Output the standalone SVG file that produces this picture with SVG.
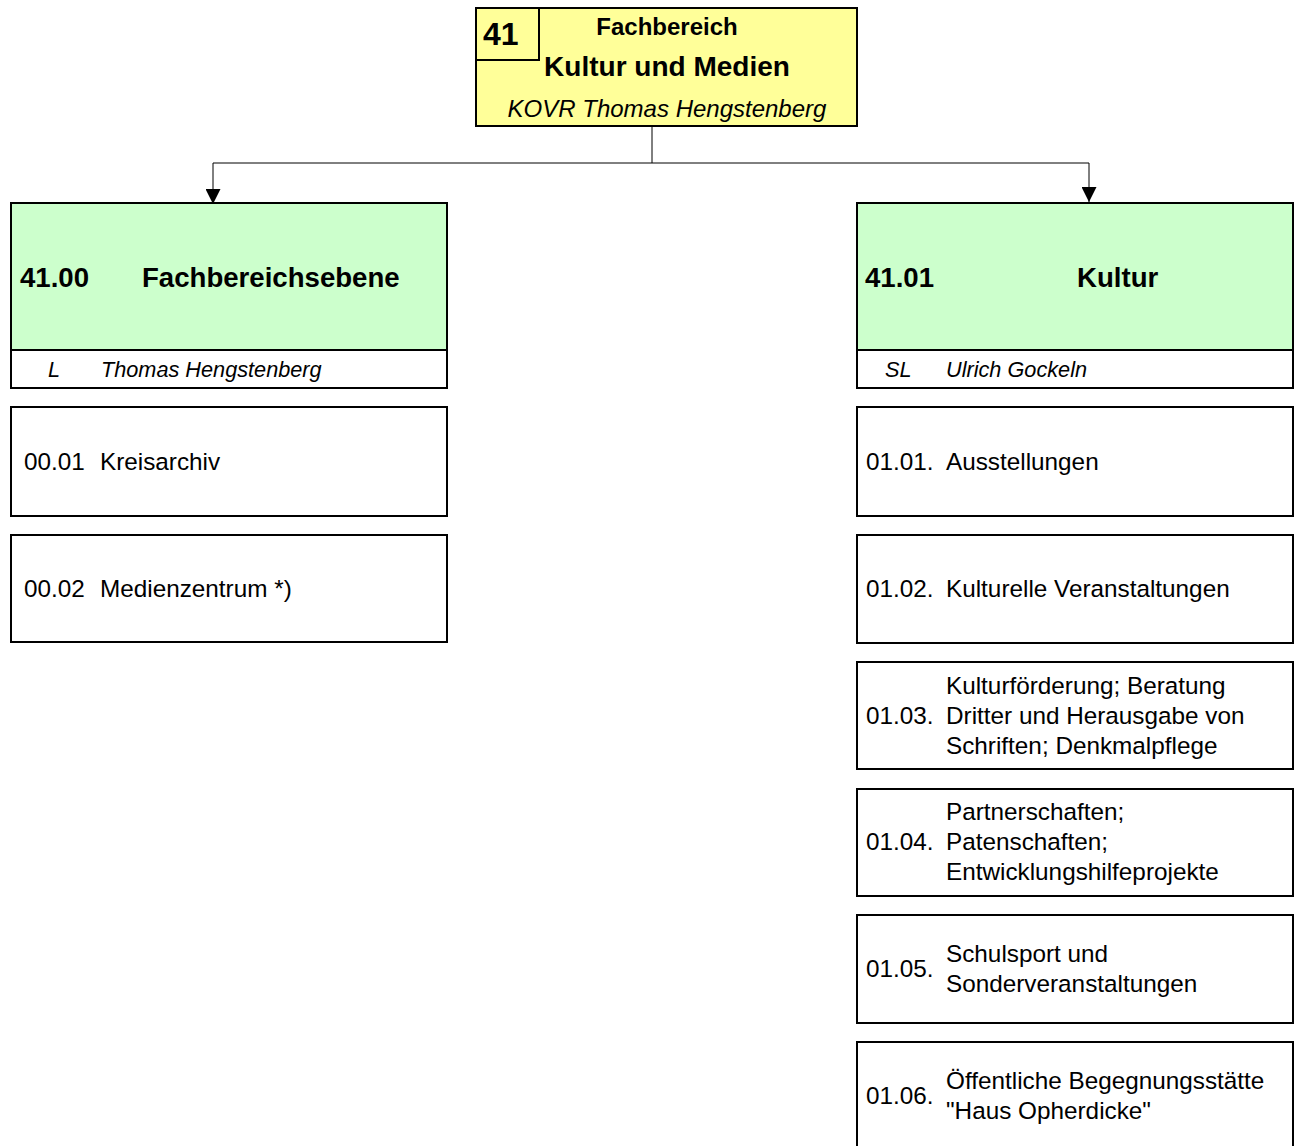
<svg xmlns="http://www.w3.org/2000/svg" width="1299" height="1146" viewBox="0 0 1299 1146">
<defs>
<style>
text{font-family:"Liberation Sans",Arial,sans-serif;fill:#000}
.box{stroke:#000;stroke-width:2;fill:#fff}
.green{fill:#CCFFCC}
.yellow{fill:#FFFF99}
.conn{stroke:#000;stroke-width:1;fill:none}
.hd{font-size:27.6px;font-weight:bold}
.sub{font-size:21.7px;font-style:italic}
.it{font-size:24.3px}
</style>
<marker id="arr" markerWidth="15" markerHeight="15" refX="15" refY="7.5" orient="auto" markerUnits="userSpaceOnUse">
<path d="M0,0 L15,7.5 L0,15 Z" fill="#000"/>
</marker>
</defs>
<rect width="1299" height="1146" fill="#fff"/>

<g id="connectors">
<path class="conn" d="M652,126 V163"/>
<path class="conn" d="M213,163 H1089"/>
<path class="conn" d="M213,163 V204" marker-end="url(#arr)"/>
<path class="conn" d="M1089,163 V202" marker-end="url(#arr)"/>
</g>

<g id="n41">
<rect class="box yellow" x="476" y="8" width="381" height="118"/>
<rect class="box yellow" x="476" y="8" width="63" height="52"/>
<text x="483" y="45" font-size="32" font-weight="bold">41</text>
<text x="667" y="35" font-size="24" font-weight="bold" text-anchor="middle">Fachbereich</text>
<text x="667" y="76" font-size="28" font-weight="bold" text-anchor="middle">Kultur und Medien</text>
<text x="667" y="117" font-size="24" font-style="italic" text-anchor="middle">KOVR Thomas Hengstenberg</text>
</g>

<g id="n4100">
<rect class="box green" x="11" y="203" width="436" height="147"/>
<rect class="box" x="11" y="350" width="436" height="38"/>
<text class="hd" x="20" y="287">41.00</text>
<text class="hd" x="142" y="287">Fachbereichsebene</text>
<text class="sub" x="48" y="377">L</text>
<text class="sub" x="101" y="377">Thomas Hengstenberg</text>
</g>

<g id="n4101">
<rect class="box green" x="857" y="203" width="436" height="147"/>
<rect class="box" x="857" y="350" width="436" height="38"/>
<text class="hd" x="865" y="287">41.01</text>
<text class="hd" x="1077" y="287">Kultur</text>
<text class="sub" x="885" y="377">SL</text>
<text class="sub" x="946" y="377">Ulrich Gockeln</text>
</g>

<g id="n0001">
<rect class="box" x="11" y="407" width="436" height="109"/>
<text class="it" x="24" y="470">00.01</text>
<text class="it" x="100" y="470">Kreisarchiv</text>
</g>

<g id="n0002">
<rect class="box" x="11" y="535" width="436" height="107"/>
<text class="it" x="24" y="597">00.02</text>
<text class="it" x="100" y="597">Medienzentrum *)</text>
</g>

<g id="n0101">
<rect class="box" x="857" y="407" width="436" height="109"/>
<text class="it" x="866" y="470">01.01.</text>
<text class="it" x="946" y="470">Ausstellungen</text>
</g>

<g id="n0102">
<rect class="box" x="857" y="535" width="436" height="108"/>
<text class="it" x="866" y="597">01.02.</text>
<text class="it" x="946" y="597">Kulturelle Veranstaltungen</text>
</g>

<g id="n0103">
<rect class="box" x="857" y="662" width="436" height="107"/>
<text class="it" x="866" y="724">01.03.</text>
<text class="it" x="946" y="694">Kulturförderung; Beratung</text>
<text class="it" x="946" y="724">Dritter und Herausgabe von</text>
<text class="it" x="946" y="754">Schriften; Denkmalpflege</text>
</g>

<g id="n0104">
<rect class="box" x="857" y="789" width="436" height="107"/>
<text class="it" x="866" y="850">01.04.</text>
<text class="it" x="946" y="820">Partnerschaften;</text>
<text class="it" x="946" y="850">Patenschaften;</text>
<text class="it" x="946" y="880">Entwicklungshilfeprojekte</text>
</g>

<g id="n0105">
<rect class="box" x="857" y="915" width="436" height="108"/>
<text class="it" x="866" y="977">01.05.</text>
<text class="it" x="946" y="962">Schulsport und</text>
<text class="it" x="946" y="992">Sonderveranstaltungen</text>
</g>

<g id="n0106">
<rect class="box" x="857" y="1042" width="436" height="110"/>
<text class="it" x="866" y="1104">01.06.</text>
<text class="it" x="946" y="1089">Öffentliche Begegnungsstätte</text>
<text class="it" x="946" y="1119">"Haus Opherdicke"</text>
</g>
</svg>
